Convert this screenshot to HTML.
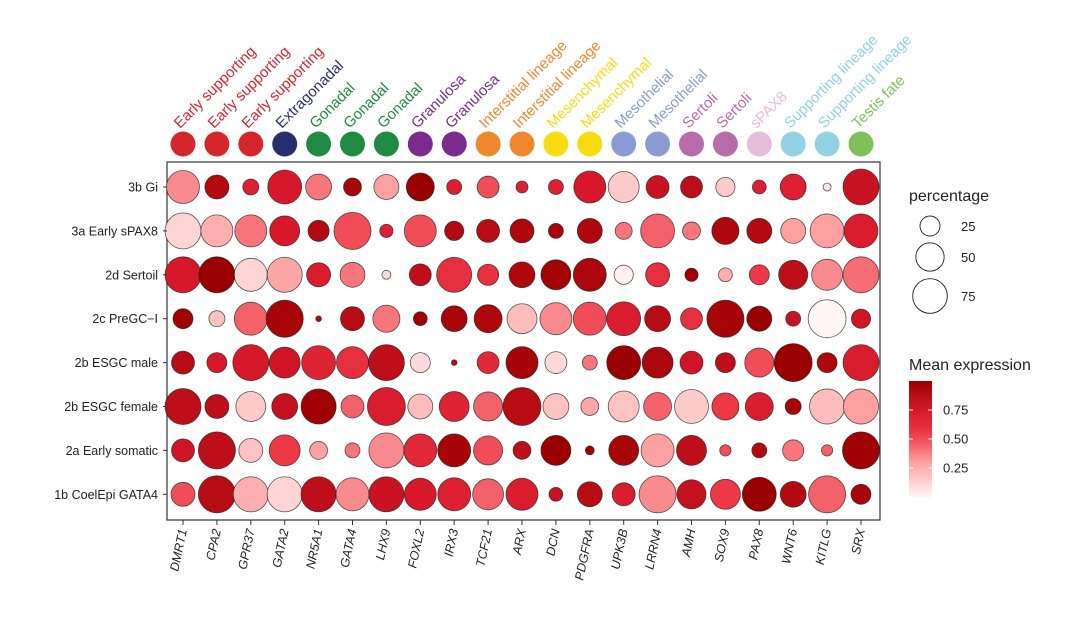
<!DOCTYPE html>
<html><head><meta charset="utf-8">
<style>
body{margin:0;background:#fff;}
svg{display:block;font-family:"Liberation Sans",Arial,sans-serif;}
</style></head>
<body>
<svg id="chart" width="1080" height="626" viewBox="0 0 1080 626" xmlns="http://www.w3.org/2000/svg">
<g id="annot"></g>
<rect x="167" y="162" width="713" height="358" fill="#fff" stroke="#333" stroke-width="1.2"/>
<g id="dots"></g>
<g id="axes"></g>
<g id="legend"></g>
</svg>
<script>
const genes=["DMRT1","CPA2","GPR37","GATA2","NR5A1","GATA4","LHX9","FOXL2","IRX3","TCF21","ARX","DCN","PDGFRA","UPK3B","LRRN4","AMH","SOX9","PAX8","WNT6","KITLG","SRX"];
const groups=["Early supporting","Early supporting","Early supporting","Extragonadal","Gonadal","Gonadal","Gonadal","Granulosa","Granulosa","Interstitial lineage","Interstitial lineage","Mesenchymal","Mesenchymal","Mesothelial","Mesothelial","Sertoli","Sertoli","sPAX8","Supporting lineage","Supporting lineage","Testis fate"];
const rows=["3b Gi","3a Early sPAX8","2d Sertoil","2c PreGC\u2212I","2b ESGC male","2b ESGC female","2a Early somatic","1b CoelEpi GATA4"];
const pct3b=[68,36,16,72,42,20,39,49,14,30,9,14,64,60,33,30,23,12,42,4,81];
const exp3b=[.35,.9,.7,.75,.4,.95,.3,1,.7,.5,.7,.7,.75,.15,.8,.85,.15,.7,.7,.05,.8];
const pct3a=[81,64,64,56,28,86,11,64,23,33,36,14,39,18,72,20,46,39,39,72,72];
const exp3a=[.12,.25,.4,.75,.9,.5,.7,.5,.9,.88,.93,.95,.92,.4,.45,.4,.92,.9,.3,.3,.72];
const pct2d=[81,81,68,77,36,39,5,30,77,28,42,56,68,23,36,11,12,25,53,60,81];
const exp2d=[.75,1,.12,.28,.72,.4,.1,.85,.6,.6,.92,.97,.93,.02,.6,.98,.25,.55,.85,.35,.42];
const pct2c=[25,16,68,86,2,36,46,12,42,49,56,64,68,72,42,30,86,39,14,90,23];
const exp2c=[.98,.18,.45,.95,.9,.88,.4,.98,.95,.92,.2,.35,.5,.72,.88,.6,.95,1,.8,0,.78];
const pct2bm=[33,25,81,60,72,64,81,25,2,30,64,30,14,72,60,33,25,53,90,25,81];
const exp2bm=[.88,.75,.75,.78,.68,.6,.85,.1,.9,.65,.95,.1,.4,1,.93,.78,.85,.5,1,.92,.72];
const pct2bf=[81,36,56,42,77,33,90,39,56,53,90,42,20,60,49,72,46,49,16,77,77];
const exp2bf=[.85,.85,.15,.82,.98,.45,.72,.2,.68,.45,.88,.18,.28,.18,.45,.15,.55,.72,.95,.2,.3];
const pct2a=[33,86,36,60,20,14,77,68,68,53,20,56,5,56,68,56,8,14,28,8,86];
const exp2a=[.78,.85,.18,.55,.3,.4,.35,.65,.95,.5,.85,1,.98,.95,.3,.85,.5,.9,.4,.45,.98];
const pct1b=[36,86,77,77,77,68,77,64,68,60,64,12,39,33,86,53,56,72,42,86,25];
const exp1b=[.5,.88,.25,.12,.85,.35,.8,.75,.7,.45,.72,.8,.88,.72,.35,.82,.55,1,.9,.45,.95];
const sizeBreaks=[25,50,75];
const colorTicks=[0.25,0.5,0.75];

const pctRows=[pct3b,pct3a,pct2d,pct2c,pct2bm,pct2bf,pct2a,pct1b];
const expRows=[exp3b,exp3a,exp2d,exp2c,exp2bm,exp2bf,exp2a,exp1b];
const groupColors={"Early supporting":"#d7262b","Extragonadal":"#272f6e","Gonadal":"#208a42","Granulosa":"#7c2a8e","Interstitial lineage":"#f0872c","Mesenchymal":"#f9dc10","Mesothelial":"#8c9bd3","Sertoli":"#b86aab","sPAX8":"#e6bddb","Supporting lineage":"#92d2e2","Testis fate":"#80c05a"};
const NS="http://www.w3.org/2000/svg";
const xS=i=>183+i*33.9;
const yS=j=>187+j*43.9;
const rS=p=>2*Math.sqrt(p);
const stops=[[0,[255,246,246]],[0.3,[252,160,160]],[0.55,[237,56,70]],[0.75,[214,24,42]],[1,[155,0,0]]];
function cS(v){v=Math.max(0,Math.min(1,v));for(let k=1;k<stops.length;k++){if(v<=stops[k][0]){const a=stops[k-1],b=stops[k];const t=(v-a[0])/(b[0]-a[0]);return "rgb("+a[1].map((c,i)=>Math.round(c+(b[1][i]-c)*t)).join(",")+")";}}return "rgb(155,0,0)";}
function mk(tag,attrs,parent){const e=document.createElementNS(NS,tag);for(const k in attrs)e.setAttribute(k,attrs[k]);parent.appendChild(e);return e;}

const dots=document.getElementById('dots');
rows.forEach((rw,j)=>{genes.forEach((g,i)=>{
  const c=mk('circle',{cx:xS(i),cy:yS(j),r:rS(pctRows[j][i]),fill:cS(expRows[j][i]),stroke:'#222','stroke-width':0.8,'stroke-opacity':0.75},dots);
  
  
});});

const axes=document.getElementById('axes');
rows.forEach((rw,j)=>{
  const t=mk('text',{x:158,y:yS(j)+4.5,'text-anchor':'end','font-size':12.5,fill:'#222'},axes);t.textContent=rw;
  
  
  mk('line',{x1:163,x2:167,y1:yS(j),y2:yS(j),stroke:'#333'},axes);
});
genes.forEach((g,i)=>{
  mk('line',{x1:xS(i),x2:xS(i),y1:520,y2:525,stroke:'#333'},axes);
  const t=mk('text',{x:0,y:0,'text-anchor':'end','font-size':12.5,'font-style':'italic',fill:'#222',transform:`translate(${xS(i)+4},${530}) rotate(-78)`},axes);t.textContent=g;
  
  
});

const annot=document.getElementById('annot');
groups.forEach((gr,i)=>{
  const col=groupColors[gr];
  const c=mk('circle',{cx:xS(i),cy:144,r:12.5,fill:col},annot);
  
  
  const t=mk('text',{x:0,y:0,'font-size':15,fill:col,transform:`translate(${xS(i)-3},${129}) rotate(-45)`},annot);t.textContent=gr;
  
  
});

const lg=document.getElementById('legend');
let t=mk('text',{x:909,y:201,'font-size':16,fill:'#222'},lg);t.textContent='percentage';


const sy=[226,257,296];
sizeBreaks.forEach((b,k)=>{
  const c=mk('circle',{cx:930,cy:sy[k],r:rS(b),fill:'none',stroke:'#222','stroke-width':0.9},lg);
  
  
  const tt=mk('text',{x:961,y:sy[k]+5,'font-size':13,fill:'#222'},lg);tt.textContent=b;
  
  
});
t=mk('text',{x:909,y:370,'font-size':16,fill:'#222'},lg);t.textContent='Mean expression';


const defs=mk('defs',{},lg);
const grad=mk('linearGradient',{id:'cg',x1:0,y1:1,x2:0,y2:0},defs);
for(let k=0;k<=10;k++){mk('stop',{offset:k/10,'stop-color':cS(k/10)},grad);}
const cb=mk('rect',{x:909,y:381,width:23,height:116,fill:'url(#cg)'},lg);


const cy=v=>497-v*116;
colorTicks.forEach(v=>{
  mk('line',{x1:909,x2:913,y1:cy(v),y2:cy(v),stroke:'#fff'},lg);
  mk('line',{x1:928,x2:932,y1:cy(v),y2:cy(v),stroke:'#fff'},lg);
  const tt=mk('text',{x:943,y:cy(v)+4.5,'font-size':13,fill:'#222'},lg);tt.textContent=v.toFixed(2);
  
  
});
</script>
</body></html>
